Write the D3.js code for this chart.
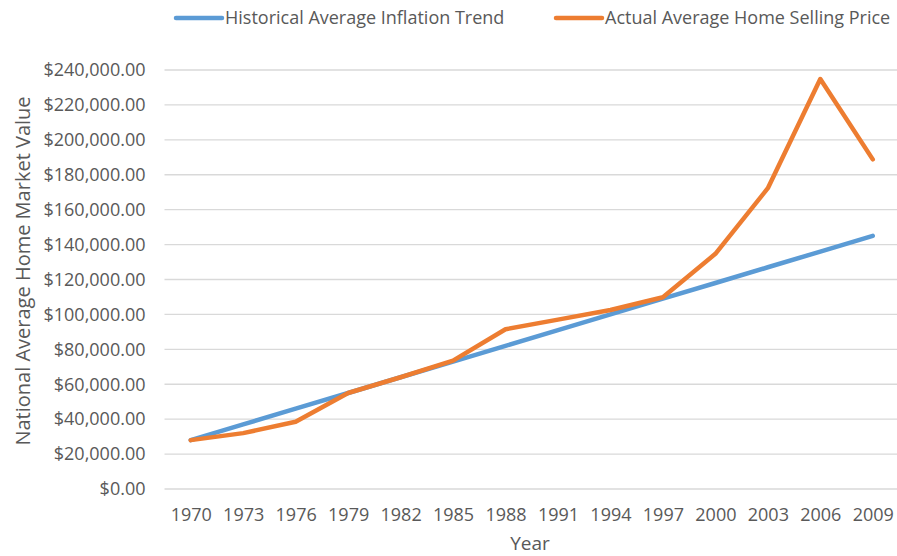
<!DOCTYPE html>
<html>
<head>
<meta charset="utf-8">
<script src="https://cdn.jsdelivr.net/npm/d3@7"></script>
<style>
  body { margin: 0; background: #fff; }
  text { font-family: "Open Sans", sans-serif; fill: #595959; }
</style>
</head>
<body>
<div id="chart"></div>
<script>
// data
const years = ["1970","1973","1976","1979","1982","1985","1988","1991","1994","1997","2000","2003","2006","2009"];
const inflationTrend = [28000,37000,46000,55000,64000,73000,82000,91000,100000,109000,118000,127000,136000,145000];
const homePrice = [28000,32000,38500,55000,64000,73500,91500,97000,102500,109800,134700,172300,234800,188800];
const yTicks = [0,20000,40000,60000,80000,100000,120000,140000,160000,180000,200000,220000,240000];
const seriesNames = ["Historical Average Inflation Trend", "Actual Average Home Selling Price"];
const colors = ["#5B9BD5", "#ED7D31"];

const width = 897, height = 556;
const plotLeft = 164.5, plotRight = 899, plotTop = 70, plotBottom = 489;

const svg = d3.select("#chart").append("svg")
  .attr("width", width)
  .attr("height", height);

const x = d3.scalePoint().domain(years).range([plotLeft, plotRight]).padding(0.5);
const y = d3.scaleLinear().domain([0, 240000]).range([plotBottom, plotTop]);

const fmt = d => "$" + d3.format(",.2f")(d);

// gridlines
svg.append("g")
  .selectAll("line")
  .data(yTicks)
  .enter()
  .append("line")
  .attr("x1", plotLeft)
  .attr("x2", width)
  .attr("y1", d => y(d))
  .attr("y2", d => y(d))
  .attr("stroke", "#D9D9D9")
  .attr("stroke-width", 1.3);

// y axis labels
const yAxis = svg.append("g")
  .attr("transform", "translate(" + (plotLeft - 8) + ",0)")
  .call(d3.axisLeft(y).tickValues(yTicks).tickFormat(fmt).tickSize(0).tickPadding(11));
yAxis.select(".domain").remove();
yAxis.selectAll("text").style("font-size", "18px").attr("fill", "#595959");

// x axis labels
const xAxis = svg.append("g")
  .attr("transform", "translate(0," + plotBottom + ")")
  .call(d3.axisBottom(x).tickSize(0).tickPadding(19));
xAxis.select(".domain").remove();
xAxis.selectAll("text").style("font-size", "18px").attr("fill", "#595959");

// axis titles
svg.append("text")
  .attr("x", 530)
  .attr("y", 550)
  .attr("text-anchor", "middle")
  .style("font-size", "19px")
  .text("Year");

svg.append("text")
  .attr("transform", "translate(30," + 271 + ") rotate(-90)")
  .attr("text-anchor", "middle")
  .style("font-size", "20px")
  .text("National Average Home Market Value");

// lines
const line = d3.line()
  .x((d, i) => x(years[i]))
  .y(d => y(d));

[inflationTrend, homePrice].forEach((vals, k) => {
  svg.append("path")
    .datum(vals)
    .attr("d", line)
    .attr("fill", "none")
    .attr("stroke", colors[k])
    .attr("stroke-width", 4.5)
    .attr("stroke-linejoin", "round")
    .attr("stroke-linecap", "round");
});

// legend
const legendX = [176, 556];
const legend = svg.append("g")
  .selectAll("g")
  .data(seriesNames)
  .enter()
  .append("g")
  .attr("transform", (d, i) => "translate(" + legendX[i] + ",18)");
legend.append("line")
  .attr("x1", 0).attr("x2", 46)
  .attr("stroke", (d, i) => colors[i])
  .attr("stroke-width", 4.5)
  .attr("stroke-linecap", "round");
legend.append("text")
  .attr("x", 49)
  .attr("dy", "0.35em")
  .style("font-size", "18px")
  .text(d => d);
</script>
</body>
</html>
